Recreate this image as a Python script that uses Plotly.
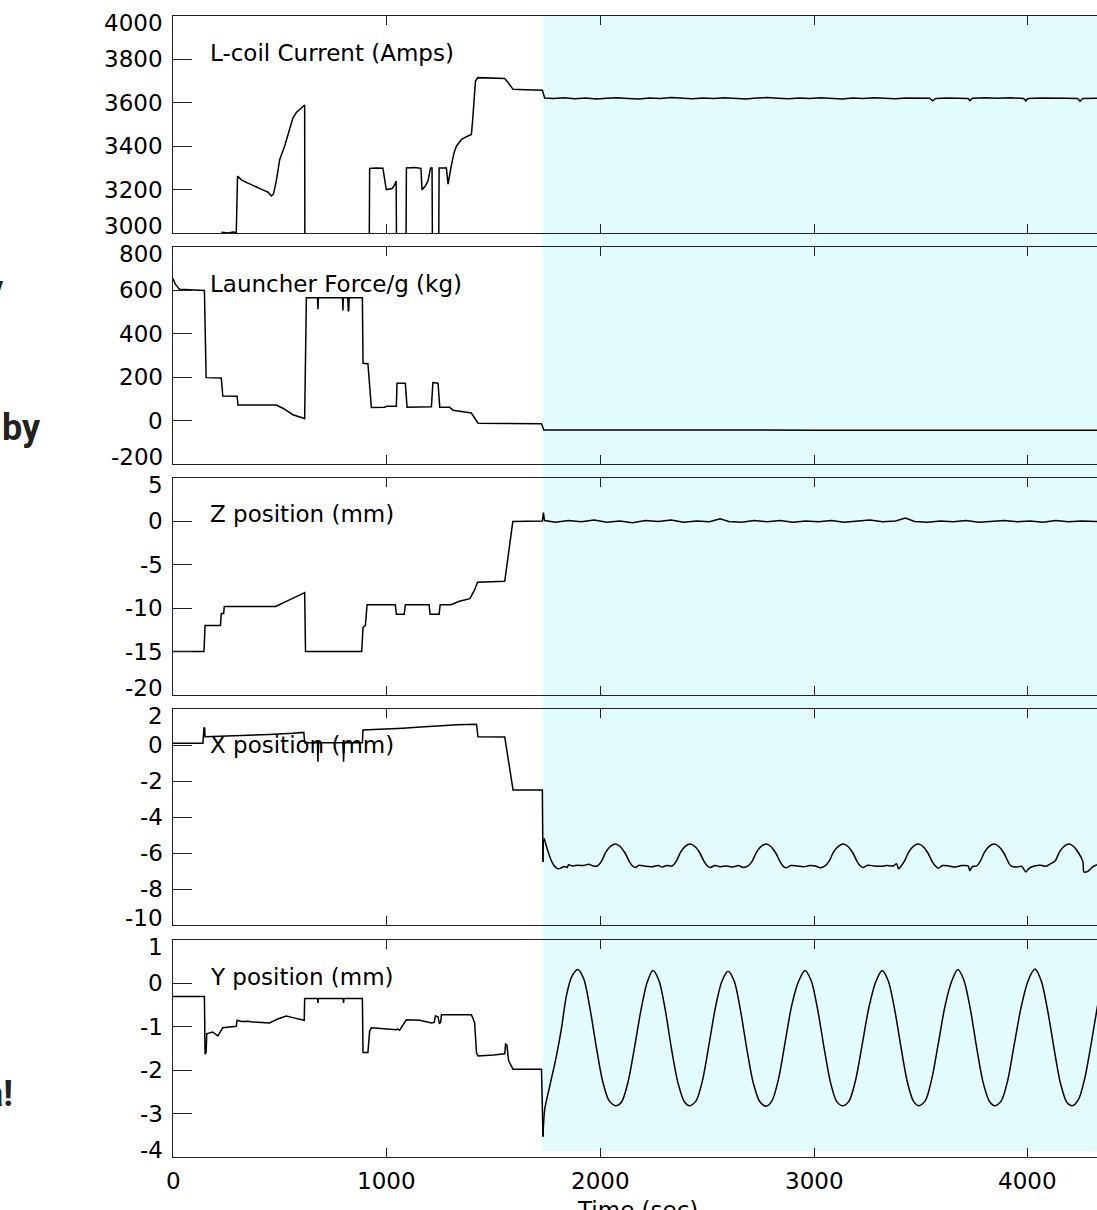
import plotly.graph_objects as go

# ---------------- data ----------------
x_tick_vals = [0, 1000, 2000, 3000, 4000]
x_tick_text = ["0", "1000", "2000", "3000", "4000"]
shade_start = 1730
x_max = 4323

panel_titles = ["L-coil Current (Amps)", "Launcher Force/g (kg)", "Z position (mm)",
                "X position (mm)", "Y position (mm)"]
y_ranges = [[3000, 4000], [-200, 800], [-20, 5], [-10, 2], [-4, 1]]
y_ticks = [[3000, 3200, 3400, 3600, 3800, 4000],
           [-200, 0, 200, 400, 600, 800],
           [-20, -15, -10, -5, 0, 5],
           [-10, -8, -6, -4, -2, 0, 2],
           [-4, -3, -2, -1, 0, 1]]

coil_t = [0, 228, 230, 260, 280, 296, 302, 320, 343, 380, 420, 445, 460, 470, 483, 499, 522, 540,
          561, 577, 600, 616, 617, 918, 920, 950, 982, 990, 998, 1025, 1036, 1044, 1046, 1090,
          1092, 1130, 1160, 1165, 1180, 1193, 1205, 1212, 1214, 1243, 1245, 1279, 1287, 1302,
          1315, 1326, 1349, 1375, 1396, 1402, 1415, 1426, 1470, 1520, 1552, 1570, 1591, 1650,
          1728, 1739, 1780, 1830, 1880, 1930, 1980, 2030, 2080, 2130, 2180, 2230, 2280, 2330,
          2380, 2430, 2480, 2530, 2580, 2630, 2680, 2730, 2780, 2830, 2880, 2930, 2980, 3030,
          3080, 3130, 3180, 3230, 3280, 3330, 3380, 3430, 3480, 3540, 3554, 3568, 3620, 3680,
          3720, 3729, 3740, 3800, 3860, 3920, 3980, 3990, 4000, 4060, 4120, 4180, 4232, 4244,
          4256, 4300, 4323]
coil_v = [2900, 2900, 3003, 3000, 3004, 3002, 3262, 3245, 3233, 3215, 3199, 3188, 3171, 3180,
          3238, 3338, 3400, 3460, 3530, 3555, 3575, 3590, 2900, 2900, 3298, 3300, 3298, 3240,
          3200, 3205, 3220, 3240, 2900, 2900, 3300, 3302, 3298, 3200, 3215, 3240, 3300, 3300,
          2900, 2900, 3300, 3300, 3225, 3310, 3370, 3400, 3431, 3445, 3454, 3520, 3700, 3716,
          3715, 3714, 3712, 3690, 3662, 3660, 3658, 3622, 3620, 3623, 3619, 3622, 3618, 3621,
          3623, 3620, 3617, 3622, 3620, 3624, 3621, 3619, 3622, 3620, 3623, 3621, 3618, 3622,
          3624, 3621, 3619, 3622, 3620, 3623, 3621, 3618, 3622, 3620, 3623, 3621, 3619, 3622,
          3620, 3621, 3609, 3620, 3622, 3621, 3620, 3610, 3621, 3623, 3621, 3623, 3620, 3609,
          3620, 3622, 3620, 3621, 3620, 3608, 3620, 3622, 3621]

force_t = [0, 10, 30, 140, 147, 155, 226, 233, 300, 304, 483, 514, 561, 608, 616, 624, 676,
           678, 680, 793, 795, 797, 818, 820, 822, 824, 886, 889, 912, 928, 990, 1000, 1045,
           1048, 1087, 1095, 1209, 1216, 1235, 1240, 1248, 1294, 1310, 1357, 1396, 1427, 1724,
           1735, 2000, 2500, 3000, 3500, 4000, 4323]
force_v = [655, 630, 605, 602, 600, 198, 196, 113, 112, 72, 72, 57, 27, 12, 9, 566, 566, 513,
           566, 566, 508, 566, 566, 506, 506, 566, 566, 264, 262, 60, 62, 66, 66, 172, 172, 62,
           64, 175, 172, 172, 62, 62, 48, 41, 35, -12, -15, -43, -44, -43, -44, -43, -44, -44]

z_t = [0, 145, 150, 222, 226, 237, 240, 480, 540, 600, 616, 620, 883, 889, 900, 908, 1040,
       1045, 1082, 1087, 1198, 1203, 1245, 1250, 1300, 1340, 1389, 1411, 1425, 1552, 1590,
       1728, 1733, 1738, 1790, 1850, 1910, 1970, 2030, 2090, 2150, 2210, 2270, 2330, 2390,
       2450, 2510, 2560, 2600, 2660, 2720, 2780, 2840, 2900, 2960, 3020, 3080, 3140, 3200,
       3260, 3320, 3380, 3427, 3470, 3530, 3590, 3650, 3710, 3770, 3830, 3890, 3950, 4010,
       4070, 4130, 4190, 4250, 4323]
z_v = [-15, -15, -12, -12, -10.6, -10.6, -9.8, -9.8, -9.1, -8.4, -8.2, -15, -15, -12.2, -12,
       -9.6, -9.6, -10.7, -10.7, -9.6, -9.6, -10.7, -10.7, -9.6, -9.6, -9.2, -8.9, -7.9, -7.0,
       -6.9, 0.0, 0.05, 1.0, 0.1, -0.1, 0.1, -0.05, 0.15, -0.1, 0.05, -0.15, 0.1, 0.0, 0.15,
       -0.1, 0.05, -0.05, 0.3, 0.0, -0.1, 0.1, -0.05, 0.1, -0.1, 0.05, -0.05, 0.1, -0.1, 0.05,
       0.15, -0.05, 0.05, 0.4, 0.0, -0.1, 0.05, -0.05, 0.1, -0.1, 0.0, 0.1, -0.05, 0.05, -0.1,
       0.1, -0.05, 0.05, 0.0]

xpos_t = [0, 140, 145, 148, 150, 300, 450, 560, 612, 616, 676, 678, 681, 796, 798, 801, 886,
          889, 950, 1010, 1076, 1140, 1232, 1330, 1420, 1427, 1552, 1591, 1728,
          1731, 1736, 1745, 1760, 1775, 1790, 1805, 1817, 1830, 1845, 1850, 1870, 1895, 1920,
          1945, 1965, 1985, 2005, 2025, 2048, 2070, 2092, 2115, 2135, 2150, 2165, 2180, 2210,
          2240, 2270, 2290, 2310, 2335, 2355, 2375, 2398, 2419, 2442, 2465, 2485, 2500, 2515,
          2535, 2560, 2590, 2620, 2645, 2668, 2690, 2710, 2730, 2753, 2775, 2797, 2820, 2840,
          2855, 2870, 2890, 2920, 2950, 2980, 3005, 3030, 3050, 3070, 3090, 3114, 3136, 3158,
          3181, 3201, 3216, 3230, 3250, 3280, 3310, 3340, 3370, 3385, 3395, 3405, 3422, 3442,
          3465, 3487, 3509, 3532, 3552, 3567, 3580, 3600, 3630, 3660, 3690, 3720, 3728, 3740,
          3760, 3777, 3797, 3820, 3842, 3864, 3887, 3907, 3920, 3950, 3970, 3990, 4005, 4030,
          4060, 4085, 4105, 4127, 4147, 4170, 4192, 4214, 4237, 4257, 4262, 4280, 4300, 4323]
xpos_v = [0.10, 0.10, 0.95, 0.95, 0.46, 0.50, 0.58, 0.65, 0.70, 0.13, 0.13, -0.93, 0.13, 0.13,
          -0.93, 0.13, 0.13, 0.83, 0.85, 0.90, 0.93, 0.98, 1.06, 1.12, 1.15, 0.46, 0.45, -2.50,
          -2.50,
          -6.50, -5.20, -5.55, -6.10, -6.55, -6.80, -6.88, -6.82, -6.75, -6.80, -6.66, -6.72,
          -6.68, -6.70, -6.62, -6.72, -6.72, -6.45, -5.95, -5.62, -5.50, -5.64, -6.00, -6.48,
          -6.72, -6.80, -6.68, -6.74, -6.76, -6.70, -6.78, -6.70, -6.72, -6.45, -5.95, -5.62,
          -5.50, -5.64, -6.00, -6.48, -6.72, -6.80, -6.70, -6.76, -6.72, -6.78, -6.70, -6.80,
          -6.72, -6.45, -5.95, -5.62, -5.50, -5.64, -6.00, -6.48, -6.74, -6.82, -6.70, -6.72,
          -6.76, -6.70, -6.72, -6.82, -6.72, -6.45, -5.95, -5.62, -5.50, -5.64, -6.00, -6.48,
          -6.72, -6.80, -6.68, -6.72, -6.74, -6.70, -6.72, -6.60, -6.88, -6.75, -6.45, -5.95,
          -5.62, -5.50, -5.64, -6.00, -6.48, -6.72, -6.85, -6.70, -6.72, -6.78, -6.70, -6.72,
          -6.98, -6.75, -6.72, -6.45, -5.95, -5.62, -5.50, -5.64, -6.00, -6.48, -6.72, -6.78,
          -6.74, -7.05, -6.85, -6.72, -6.68, -6.74, -6.60, -6.45, -5.95, -5.62, -5.50, -5.64,
          -6.00, -6.48, -7.05, -7.02, -6.80, -6.65]

ypos_t = [0, 147, 150, 155, 158, 185, 210, 225, 233, 296, 300, 320, 350, 374, 400, 452, 490,
          530, 570, 608, 614, 616, 676, 678, 680, 796, 798, 800, 886, 889, 912, 920, 928, 1045,
          1050, 1060, 1092, 1154, 1180, 1210, 1222, 1228, 1240, 1246, 1252, 1256, 1396, 1411,
          1420, 1427, 1500, 1552, 1556, 1562, 1570, 1591, 1724,
          1731, 1739, 1763, 1794, 1817, 1840, 1865, 1894, 1922, 1950, 1980, 2010, 2040, 2072,
          2100, 2130, 2160, 2190, 2218, 2245, 2273, 2302, 2332, 2362, 2392, 2418, 2448, 2478,
          2508, 2538, 2568, 2597, 2626, 2655, 2685, 2715, 2745, 2774, 2803, 2833, 2863, 2895,
          2927, 2957, 2986, 3016, 3046, 3076, 3106, 3135, 3164, 3194, 3224, 3256, 3288, 3318,
          3347, 3377, 3407, 3437, 3465, 3490, 3520, 3550, 3580, 3612, 3644, 3672, 3700, 3730,
          3760, 3790, 3820, 3846, 3876, 3906, 3936, 3970, 4002, 4033, 4062, 4092, 4122, 4152,
          4182, 4207, 4236, 4266, 4296, 4326]
ypos_v = [-0.30, -0.30, -1.63, -1.60, -1.16, -1.12, -1.21, -1.10, -1.02, -0.99, -0.85, -0.88,
          -0.87, -0.89, -0.90, -0.91, -0.82, -0.75, -0.80, -0.83, -0.85, -0.35, -0.35, -0.45,
          -0.35, -0.35, -0.45, -0.35, -0.35, -1.59, -1.59, -1.10, -1.02, -1.07, -1.05, -1.08,
          -0.84, -0.85, -0.88, -0.91, -0.90, -0.75, -0.77, -0.92, -0.90, -0.72, -0.72, -0.90,
          -1.60, -1.67, -1.65, -1.62, -1.40, -1.42, -1.78, -1.98, -1.98,
          -3.53, -2.91, -2.36, -1.67, -1.05, -0.30, 0.15, 0.32, 0.10, -0.55, -1.45, -2.25,
          -2.70, -2.82, -2.72, -2.25, -1.45, -0.60, 0.02, 0.30, 0.08, -0.58, -1.50, -2.28,
          -2.72, -2.82, -2.70, -2.22, -1.40, -0.55, 0.05, 0.28, 0.05, -0.62, -1.52, -2.30,
          -2.72, -2.83, -2.70, -2.20, -1.38, -0.50, 0.05, 0.30, 0.06, -0.60, -1.48, -2.28,
          -2.73, -2.82, -2.70, -2.22, -1.42, -0.55, 0.04, 0.30, 0.05, -0.62, -1.50, -2.30,
          -2.72, -2.82, -2.70, -2.20, -1.40, -0.52, 0.06, 0.32, 0.08, -0.58, -1.48, -2.28,
          -2.72, -2.82, -2.70, -2.22, -1.40, -0.50, 0.08, 0.33, 0.06, -0.62, -1.50, -2.30,
          -2.74, -2.82, -2.68, -2.18, -1.38, -0.50]

series = [(coil_t, coil_v), (force_t, force_v), (z_t, z_v), (xpos_t, xpos_v), (ypos_t, ypos_v)]
smooth_after_shade = [False, False, False, True, True]

# ---------------- layout geometry ----------------
W, H = 1097, 1210
ML, MT, MB = 173, 16, 53
plot_h = H - MT - MB
panel_px = [(16, 233), (247, 464), (478, 695), (709, 925), (940, 1157)]


def py2paper(py):
    return (H - MB - py) / plot_h


TICK_FONT = dict(family="DejaVu Sans", size=23, color="black")
AX_COL = "#222222"
LINE = dict(color="black", width=1.5)

fig = go.Figure()
layout = dict(width=W, height=H, margin=dict(l=ML, r=0, t=MT, b=MB),
              paper_bgcolor="white", plot_bgcolor="rgba(0,0,0,0)", showlegend=False)
annotations = []

for i, ((t, v), (top, bot)) in enumerate(zip(series, panel_px)):
    n = i + 1
    xa = "x" if n == 1 else f"x{n}"
    ya = "y" if n == 1 else f"y{n}"
    if smooth_after_shade[i]:
        k = next(j for j, tt in enumerate(t) if tt >= shade_start)
        fig.add_trace(go.Scatter(x=t[:k + 1], y=v[:k + 1], mode="lines", xaxis=xa, yaxis=ya,
                                 line=LINE, hoverinfo="skip"))
        fig.add_trace(go.Scatter(x=t[k:], y=v[k:], mode="lines", xaxis=xa, yaxis=ya,
                                 line=dict(LINE, shape="spline", smoothing=0.8),
                                 hoverinfo="skip"))
    else:
        fig.add_trace(go.Scatter(x=t, y=v, mode="lines", xaxis=xa, yaxis=ya,
                                 line=LINE, hoverinfo="skip"))
    layout["xaxis" if n == 1 else f"xaxis{n}"] = dict(
        domain=[0, 1], range=[0, x_max], anchor=ya, showline=True, mirror="ticks",
        linecolor=AX_COL, linewidth=1, ticks="inside", ticklen=9, tickcolor=AX_COL,
        tickvals=x_tick_vals, showticklabels=False, showgrid=False, zeroline=False)
    layout["yaxis" if n == 1 else f"yaxis{n}"] = dict(
        domain=[py2paper(bot), py2paper(top)], range=y_ranges[i], anchor=xa,
        showline=True, mirror=False, linecolor=AX_COL, linewidth=1, ticks="inside",
        ticklen=19, tickcolor=AX_COL, tickvals=y_ticks[i], showticklabels=False,
        showgrid=False, zeroline=False)
    lo, hi = y_ranges[i]
    for tv in y_ticks[i]:
        shift = -7 if tv == hi else (7 if tv == lo else 0)
        annotations.append(dict(text=str(tv), xref="paper", x=0, xanchor="right", xshift=-8,
                                yref=ya, y=tv, yanchor="middle", yshift=shift,
                                showarrow=False, font=TICK_FONT))

# panel titles
title_py = [53, 284, 514, 745, 977]
for txt, py in zip(panel_titles, title_py):
    annotations.append(dict(text=txt, xref="paper", x=(208 - ML) / (W - ML), xanchor="left",
                            yref="paper", y=py2paper(py), yanchor="middle", showarrow=False,
                            font=TICK_FONT))

# x tick labels
for tv, tt in zip(x_tick_vals, x_tick_text):
    annotations.append(dict(text=tt, xref="x5", x=tv, xanchor="center", yref="paper", y=0,
                            yanchor="middle", yshift=-24, showarrow=False, font=TICK_FONT))
annotations.append(dict(text="Time (sec)", xref="paper", x=(637 - ML) / (W - ML),
                        xanchor="center", yref="paper", y=0, yanchor="middle", yshift=-53,
                        showarrow=False, font=TICK_FONT))

# cropped slide text at the left edge
side_font = dict(family="Liberation Sans Narrow, Roboto, sans-serif", size=36, color="#222")
for txt, right_px, cy in [("y", 6, 289), ("by", 43, 428), ("a!", 15, 1094)]:
    annotations.append(dict(text=f"<b>{txt}</b>", xref="paper", x=(right_px - ML) / (W - ML),
                            xanchor="right", yref="paper", y=py2paper(cy), yanchor="middle",
                            showarrow=False, font=side_font))

layout["annotations"] = annotations
layout["shapes"] = [dict(type="rect", xref="x", x0=shade_start, x1=x_max + 50, yref="paper",
                         y0=py2paper(1151), y1=py2paper(16), fillcolor="#E3FCFD",
                         line=dict(width=0), layer="below")]
fig.update_layout(**layout)
fig.write_html("out.html")
